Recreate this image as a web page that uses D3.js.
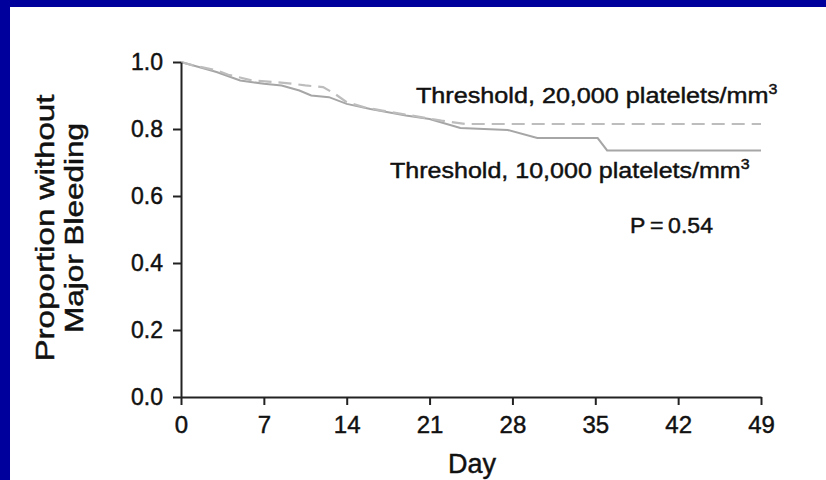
<!DOCTYPE html>
<html>
<head>
<meta charset="utf-8">
<script src="https://cdn.jsdelivr.net/npm/d3@7"></script>
<style>
  html, body { margin: 0; padding: 0; background: #00009c; }
  svg { display: block; font-family: "Liberation Sans", Arial, Helvetica, sans-serif; }
  svg text { stroke: #111; stroke-width: 0.45px; }
</style>
</head>
<body>
<svg id="chart" width="826" height="480"></svg>
<script>
// Kaplan-Meier style curves: day -> proportion without major bleeding
const days20 = [0, 1, 3, 4, 6, 8, 9.5, 10.5, 12, 13, 14, 15.5, 17, 19.5, 22, 24, 49];
const surv20 = [1.0, 0.99, 0.975, 0.962, 0.945, 0.94, 0.935, 0.93, 0.925, 0.905, 0.88, 0.865, 0.855, 0.84, 0.825, 0.815, 0.815];

const days10 = [0, 1.5, 3, 5, 7, 8.5, 10, 11, 12.5, 14, 16, 19, 21, 23.6, 27.6, 30.1, 35.2, 36, 49];
const surv10 = [1.0, 0.985, 0.97, 0.945, 0.935, 0.93, 0.915, 0.9, 0.895, 0.875, 0.86, 0.84, 0.83, 0.803, 0.797, 0.773, 0.773, 0.736, 0.736];

const xTicks = [0, 7, 14, 21, 28, 35, 42, 49];
const yTicks = [0.0, 0.2, 0.4, 0.6, 0.8, 1.0];

const label20 = "Threshold, 20,000 platelets/mm";
const label10 = "Threshold, 10,000 platelets/mm";
const pLabel = "P\u2009=\u20090.54";
const yLabelLines = ["Proportion without", "Major Bleeding"];
const xLabel = "Day";

const svg = d3.select("#chart");

// white panel inside the blue frame
svg.append("rect")
  .attr("x", 10).attr("y", 7)
  .attr("width", 826 - 10).attr("height", 480 - 7)
  .attr("fill", "#fff");

const x = d3.scaleLinear().domain([0, 49]).range([181, 761]);
const y = d3.scaleLinear().domain([0, 1]).range([397, 62]);

// stretch a text horizontally so it spans the given width
function fitWidth(sel, target) {
  const w = sel.node().getBBox().width;
  const tx = +sel.attr("data-x"), ty = +sel.attr("data-y");
  sel.attr("transform", `translate(${tx},${ty}) scale(${target / w},1)`);
}

// curves
const line = d3.line().x((d) => x(d[0])).y((d) => y(d[1]));

svg.append("path")
  .datum(days10.map((d, i) => [d, surv10[i]]))
  .attr("fill", "none")
  .attr("stroke", "#a6a6a6")
  .attr("stroke-width", 2)
  .attr("d", line);

svg.append("path")
  .datum(days20.map((d, i) => [d, surv20[i]]))
  .attr("fill", "none")
  .attr("stroke", "#bdbdbd")
  .attr("stroke-width", 2.2)
  .attr("stroke-dasharray", "13,7")
  .attr("d", line);

// axes
const xAxis = svg.append("g")
  .attr("transform", `translate(0,${y(0)})`)
  .call(d3.axisBottom(x).tickValues(xTicks).tickSize(8).tickPadding(11).tickSizeOuter(0));

const yAxis = svg.append("g")
  .attr("transform", `translate(${x(0)},0)`)
  .call(d3.axisLeft(y).tickValues(yTicks).tickFormat(d3.format(".1f")).tickSize(8).tickPadding(10).tickSizeOuter(0));

[xAxis, yAxis].forEach((g) => {
  g.select(".domain").attr("stroke", "#222").attr("stroke-width", 2);
  g.selectAll(".tick line").attr("stroke", "#222").attr("stroke-width", 2);
  g.selectAll(".tick text").attr("fill", "#111").attr("font-family", null);
});
xAxis.selectAll(".tick text").attr("font-size", 24);
yAxis.selectAll(".tick text").attr("font-size", 23);

// x axis title
svg.append("text")
  .attr("x", 472).attr("y", 473)
  .attr("text-anchor", "middle")
  .attr("font-size", 27)
  .attr("fill", "#111")
  .text(xLabel);

// y axis title, two lines
yLabelLines.forEach((t, i) => {
  svg.append("text")
    .attr("transform", `translate(${54 + i * 29},228) rotate(-90)`)
    .attr("text-anchor", "middle")
    .attr("font-size", 25)
    .attr("fill", "#111")
    .attr("textLength", i === 0 ? 267 : 210)
    .attr("lengthAdjust", "spacingAndGlyphs")
    .text(t);
});

// annotations
function annot(txt, px, py, width, sup) {
  const t = svg.append("text")
    .attr("data-x", px).attr("data-y", py)
    .attr("font-size", 22)
    .attr("fill", "#111")
    .text(txt);
  if (sup) {
    t.append("tspan")
      .attr("font-size", 14)
      .attr("dy", -9)
      .text(sup);
  }
  fitWidth(t, width);
}

annot(label20, 416, 103, 362, "3");
annot(label10, 390, 178, 360, "3");
annot(pLabel, 630, 233, 83);
</script>
</body>
</html>
